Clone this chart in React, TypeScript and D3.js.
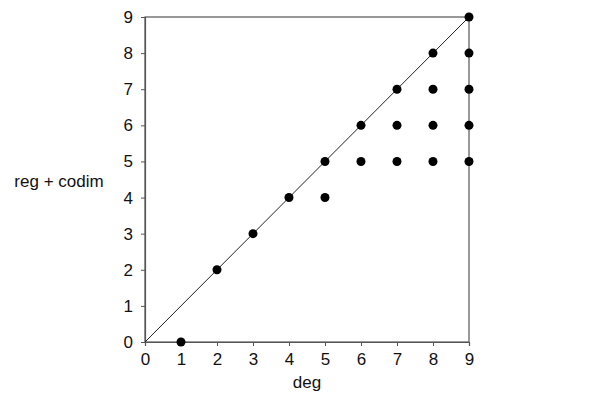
import React, { useEffect, useRef } from "react";
import * as d3 from "d3";

const degs = [1, 2, 3, 4, 5, 5, 6, 6, 7, 7, 7, 8, 8, 8, 8, 9, 9, 9, 9, 9];
const regCodim = [0, 2, 3, 4, 5, 4, 6, 5, 7, 6, 5, 8, 7, 6, 5, 9, 8, 7, 6, 5];
const ticks = [0, 1, 2, 3, 4, 5, 6, 7, 8, 9];

const drawChart = (svgRef) => {
  const svg = d3.select(svgRef.current);
  svg.selectAll("*").remove();

  const x = d3.scaleLinear().domain([0, 9]).range([145, 469]);
  const y = d3.scaleLinear().domain([0, 9]).range([342, 17]);
  const font = "'Liberation Sans', Arial, sans-serif";

  // frame
  svg
    .append("rect")
    .attr("x", x(0))
    .attr("y", y(9))
    .attr("width", x(9) - x(0))
    .attr("height", y(0) - y(9))
    .attr("fill", "none")
    .attr("stroke", "#555")
    .attr("stroke-width", 1.2);

  const xAxis = svg
    .append("g")
    .attr("transform", "translate(0," + y(0) + ")")
    .call(d3.axisBottom(x).tickValues(ticks).tickSize(4).tickPadding(7));
  const yAxis = svg
    .append("g")
    .attr("transform", "translate(" + x(0) + ",0)")
    .call(d3.axisLeft(y).tickValues(ticks).tickSize(4).tickPadding(8));

  [xAxis, yAxis].forEach((g) => {
    g.select(".domain").attr("stroke", "#555").attr("stroke-width", 1.2);
    g.selectAll(".tick line").attr("stroke", "#555");
    g.selectAll(".tick text")
      .attr("fill", "#111")
      .style("font-family", font)
      .style("font-size", "17px");
  });

  // diagonal
  svg
    .append("line")
    .attr("x1", x(0))
    .attr("y1", y(0))
    .attr("x2", x(9))
    .attr("y2", y(9))
    .attr("stroke", "#222")
    .attr("stroke-width", 1);

  svg
    .selectAll("circle.pt")
    .data(degs)
    .enter()
    .append("circle")
    .attr("class", "pt")
    .attr("cx", (d) => x(d))
    .attr("cy", (d, i) => y(regCodim[i]))
    .attr("r", 4.5)
    .attr("fill", "#000");

  svg
    .append("text")
    .attr("x", 307)
    .attr("y", 388)
    .attr("text-anchor", "middle")
    .style("font-family", font)
    .style("font-size", "17px")
    .attr("fill", "#111")
    .text("deg");

  svg
    .append("text")
    .attr("x", 59)
    .attr("y", 187)
    .attr("text-anchor", "middle")
    .style("font-family", font)
    .style("font-size", "17px")
    .attr("fill", "#111")
    .text("reg + codim");
};

const App = () => {
  const svgRef = useRef(null);
  useEffect(() => {
    drawChart(svgRef);
  }, []);
  return (
    <svg
      ref={svgRef}
      width={600}
      height={398}
      style={{ position: "absolute", left: 0, top: 0, background: "#fff" }}
    />
  );
};

export default App;
